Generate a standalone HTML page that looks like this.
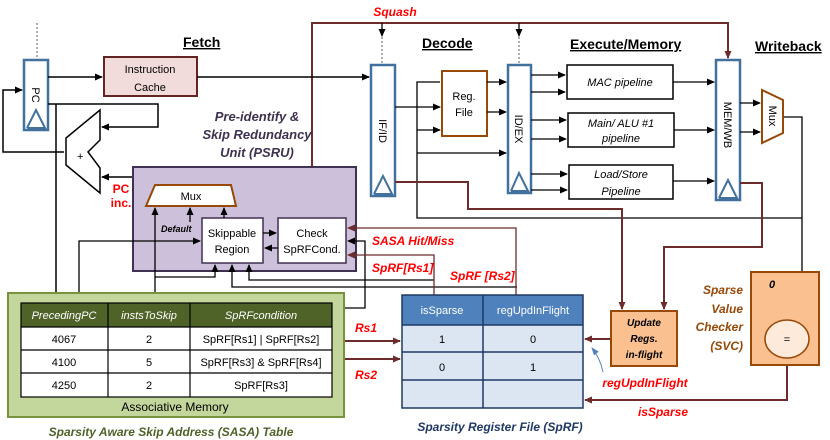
<!DOCTYPE html>
<html><head><meta charset="utf-8"><style>
body{margin:0;background:#fff}
svg{display:block;font-family:"Liberation Sans",sans-serif}
.t{font-size:11px;fill:#000}
.it{font-style:italic}
.b{font-weight:bold}
.red{fill:#ff0000;font-weight:bold;font-style:italic;font-size:12px}
</style></head><body>
<svg width="830" height="440" viewBox="0 0 830 440" xmlns="http://www.w3.org/2000/svg">
<defs>
<marker id="a" markerWidth="8" markerHeight="8" refX="7" refY="4" orient="auto" markerUnits="userSpaceOnUse"><path d="M0,0.5 L8,4 L0,7.5z" fill="#000"/></marker>
<marker id="r" markerWidth="8" markerHeight="8" refX="7" refY="4" orient="auto" markerUnits="userSpaceOnUse"><path d="M0,0.5 L8,4 L0,7.5z" fill="#6d2b2b"/></marker>
<marker id="bl" markerWidth="8" markerHeight="8" refX="7" refY="4" orient="auto" markerUnits="userSpaceOnUse"><path d="M0,1 L8,4 L0,7z" fill="#4f81bd"/></marker>
</defs>

<!-- titles -->
<g font-weight="bold" font-size="14" text-decoration="underline">
<text x="183" y="47">Fetch</text>
<text x="422" y="48">Decode</text>
<text x="570" y="49">Execute/Memory</text>
<text x="755" y="51">Writeback</text>
</g>

<!-- Squash -->
<text x="395" y="16" class="red" text-anchor="middle">Squash</text>
<g fill="none" stroke="#6d2b2b" stroke-width="2">
<polyline points="312,220 312,23 728,23 728,58" marker-end="url(#r)"/>
<polyline points="312,195 238,195" marker-end="url(#r)"/>
</g>

<!-- dashed stalls -->
<g stroke="#777" stroke-width="1.2" stroke-dasharray="2,2"><line x1="37" y1="23" x2="37" y2="60"/><line x1="382" y1="37" x2="382" y2="65"/><line x1="519" y1="37" x2="519" y2="65"/></g>
<g stroke="#000" stroke-width="1.3" fill="none"><line x1="382" y1="23" x2="382" y2="36" marker-end="url(#a)"/><line x1="519" y1="23" x2="519" y2="36" marker-end="url(#a)"/></g>

<!-- registers -->
<g fill="#fff" stroke="#41719c" stroke-width="2.5">
<rect x="24" y="60" width="24" height="70"/>
<rect x="371" y="65" width="24" height="131"/>
<rect x="508" y="65" width="23" height="128"/>
<rect x="716" y="60" width="24" height="140"/>
</g>
<g fill="none" stroke="#41719c" stroke-width="2">
<polyline points="27,128 36,110 45,128 27,128"/>
<polyline points="374,194 383,176 392,194 374,194"/>
<polyline points="511,191 519,173 528,191 511,191"/>
<polyline points="719,198 728,180 737,198 719,198"/>
</g>
<text transform="translate(32,95) rotate(90)" class="t" text-anchor="middle" font-size="10">PC</text>
<text transform="translate(379,131) rotate(90)" class="t" text-anchor="middle">IF/ID</text>
<text transform="translate(515,129) rotate(90)" class="t" text-anchor="middle">ID/EX</text>
<text transform="translate(724,125) rotate(90)" class="t" text-anchor="middle">MEM/WB</text>

<!-- Instruction cache -->
<rect x="104" y="57" width="93" height="39" fill="#f2dcdb" stroke="#632523" stroke-width="2"/>
<text x="150" y="73" class="t" font-size="12" text-anchor="middle">Instruction</text>
<text x="150" y="91" class="t" font-size="12" text-anchor="middle">Cache</text>

<!-- adder -->
<polygon points="100,110 66,138 66,165 100,193 100,168 88,152 100,140" fill="#fff" stroke="#000" stroke-width="1.5"/>
<text x="77" y="160" class="t" font-size="13">+</text>

<!-- fetch wires -->
<g fill="none" stroke="#000" stroke-width="1.5">
<line x1="48" y1="77" x2="102" y2="77" marker-end="url(#a)"/>
<line x1="197" y1="77" x2="369" y2="77" marker-end="url(#a)"/>
<polyline points="48,104 158,104 158,127 102,127" marker-end="url(#a)"/>
<polyline points="64,152 3,152 3,90 22,90" marker-end="url(#a)"/>
<polyline points="56,104 56,301" marker-end="url(#a)"/>
<polyline points="191,185 191,177 102,177" marker-end="url(#a)"/>
</g>

<!-- PSRU -->
<text x="257" y="121" fill="#3f3151" font-size="13" font-weight="bold" font-style="italic" text-anchor="middle">Pre-identify &amp;</text>
<text x="257" y="139" fill="#3f3151" font-size="13" font-weight="bold" font-style="italic" text-anchor="middle">Skip Redundancy</text>
<text x="257" y="157" fill="#3f3151" font-size="13" font-weight="bold" font-style="italic" text-anchor="middle">Unit (PSRU)</text>
<rect x="133" y="167" width="223" height="104" fill="#ccc0da" stroke="#403152" stroke-width="2"/>
<text x="121" y="193" fill="#ff0000" font-weight="bold" font-size="12" text-anchor="middle">PC</text>
<text x="121" y="207" fill="#ff0000" font-weight="bold" font-size="12" text-anchor="middle">inc.</text>
<polygon points="155,185 231,185 236,206 146,206" fill="#fff" stroke="#984807" stroke-width="2"/>
<text x="191" y="200" class="t" text-anchor="middle">Mux</text>
<rect x="202" y="218" width="61" height="45" fill="#fff" stroke="#403152" stroke-width="1.5"/>
<text x="232" y="237" class="t" text-anchor="middle">Skippable</text>
<text x="232" y="253" class="t" text-anchor="middle">Region</text>
<rect x="278" y="218" width="68" height="45" fill="#fff" stroke="#403152" stroke-width="1.5"/>
<text x="312" y="237" class="t" text-anchor="middle">Check</text>
<text x="312" y="253" class="t" text-anchor="middle">SpRFCond.</text>
<text x="161" y="232" font-size="9" font-weight="bold" font-style="italic">Default</text>
<g fill="none" stroke="#000" stroke-width="1.3">
<line x1="190" y1="222" x2="190" y2="208" marker-end="url(#a)"/>
<line x1="224" y1="218" x2="224" y2="208" marker-end="url(#a)"/>
<line x1="263" y1="233" x2="276" y2="233" marker-end="url(#a)"/>
<line x1="278" y1="248" x2="265" y2="248" marker-end="url(#a)"/>
<polyline points="155,301 155,208" marker-end="url(#a)"/>
<polyline points="79,303 79,241 200,241" marker-end="url(#a)"/>
<polyline points="155,277 215,277 215,265" marker-end="url(#a)"/>
<polyline points="434,280 249,280 249,265" marker-end="url(#a)"/>
<polyline points="517,287 232,287 232,265" marker-end="url(#a)"/>
<polyline points="344,308 365,308 365,241 348,241" marker-end="url(#a)"/>
</g>
<g fill="none" stroke="#6d2b2b" stroke-width="1.3">
<polyline points="516,296 516,228 348,228" marker-end="url(#r)"/>
<polyline points="434,296 434,255 348,255" marker-end="url(#r)"/>
</g>
<text x="372" y="245" class="red" font-size="11">SASA Hit/Miss</text>
<text x="372" y="272" class="red" font-size="11">SpRF[Rs1]</text>
<text x="450" y="280" class="red" font-size="11">SpRF [Rs2]</text>

<!-- decode -->
<rect x="442" y="71" width="45" height="65" fill="#fff" stroke="#984807" stroke-width="2"/>
<text x="464" y="100" class="t" font-size="10" text-anchor="middle">Reg.</text>
<text x="464" y="116" class="t" font-size="10" text-anchor="middle">File</text>
<g fill="none" stroke="#000" stroke-width="1.3">
<line x1="395" y1="107" x2="440" y2="107" marker-end="url(#a)"/>
<polyline points="440,82 417,82 417,218 802,218"/>
<line x1="417" y1="130" x2="440" y2="130" marker-end="url(#a)"/>
<line x1="417" y1="153" x2="506" y2="153" marker-end="url(#a)"/>
<line x1="487" y1="82" x2="506" y2="82" marker-end="url(#a)"/>
<line x1="487" y1="112" x2="506" y2="112" marker-end="url(#a)"/>
<line x1="531" y1="75" x2="565" y2="75" marker-end="url(#a)"/>
<line x1="531" y1="92" x2="565" y2="92" marker-end="url(#a)"/>
<line x1="531" y1="120" x2="566" y2="120" marker-end="url(#a)"/>
<line x1="531" y1="139" x2="566" y2="139" marker-end="url(#a)"/>
<line x1="531" y1="174" x2="567" y2="174" marker-end="url(#a)"/>
<line x1="531" y1="190" x2="567" y2="190" marker-end="url(#a)"/>
<line x1="673" y1="82" x2="714" y2="82" marker-end="url(#a)"/>
<line x1="674" y1="130" x2="714" y2="130" marker-end="url(#a)"/>
<line x1="673" y1="181" x2="714" y2="181" marker-end="url(#a)"/>
<line x1="740" y1="103" x2="760" y2="103" marker-end="url(#a)"/>
<line x1="740" y1="132" x2="760" y2="132" marker-end="url(#a)"/>
<polyline points="783,117 802,117 802,320" marker-end="url(#a)"/>
<line x1="772" y1="291" x2="772" y2="320" stroke="#6d2b2b" stroke-width="2" marker-end="url(#r)"/>
</g>

<!-- pipelines -->
<g fill="#fff" stroke="#000" stroke-width="1.5">
<rect x="567" y="65" width="106" height="34"/>
<rect x="568" y="113" width="106" height="34"/>
<rect x="569" y="165" width="104" height="34"/>
</g>
<text x="620" y="86" class="t it" text-anchor="middle">MAC pipeline</text>
<text x="621" y="127" class="t it" text-anchor="middle">Main/ ALU #1</text>
<text x="621" y="142" class="t it" text-anchor="middle">pipeline</text>
<text x="621" y="178" class="t it" text-anchor="middle">Load/Store</text>
<text x="621" y="195" class="t it" text-anchor="middle">Pipeline</text>
<polygon points="762,90 783,100 783,133 762,143" fill="#fff" stroke="#984807" stroke-width="2"/>
<text transform="translate(769,116) rotate(90)" class="t" text-anchor="middle" font-size="10">Mux</text>

<!-- red wires to update regs -->
<g fill="none" stroke="#6d2b2b" stroke-width="2">
<polyline points="395,182 468,182 468,209 622,209 622,309" marker-end="url(#r)"/>
<polyline points="740,183 762,183 762,247 664,247 664,309" marker-end="url(#r)"/>
<line x1="611" y1="339" x2="585" y2="339" marker-end="url(#r)"/>
<polyline points="787,358 787,400 585,400" marker-end="url(#r)"/>
<line x1="332" y1="341" x2="400" y2="341" marker-end="url(#r)"/>
<line x1="332" y1="359" x2="400" y2="359" marker-end="url(#r)"/>
</g>
<text x="366" y="332" class="red" text-anchor="middle">Rs1</text>
<text x="366" y="379" class="red" text-anchor="middle">Rs2</text>

<!-- Update Regs -->
<rect x="611" y="311" width="66" height="55" fill="#fac090" stroke="#984807" stroke-width="2"/>
<g font-size="10" font-weight="bold" font-style="italic" text-anchor="middle">
<text x="644" y="326">Update</text><text x="644" y="342">Regs.</text><text x="644" y="358">in-flight</text></g>
<path d="M603,372 Q600,358 592,348" fill="none" stroke="#4f81bd" stroke-width="1" marker-end="url(#bl)"/>
<text x="645" y="387" class="red" text-anchor="middle">regUpdInFlight</text>
<text x="663" y="416" class="red" text-anchor="middle">isSparse</text>

<!-- SVC -->
<rect x="751" y="272" width="68" height="93" fill="#fac090" stroke="#984807" stroke-width="2"/>
<text x="769" y="288" font-size="11" font-weight="bold" font-style="italic">0</text>
<ellipse cx="787" cy="339" rx="22" ry="19" fill="#fdeada" stroke="#984807" stroke-width="1.5"/>
<text x="787" y="343" class="t" text-anchor="middle">=</text>
<g fill="#984807" font-size="12" font-weight="bold" font-style="italic" text-anchor="end">
<text x="743" y="294">Sparse</text><text x="743" y="313">Value</text><text x="743" y="331">Checker</text><text x="743" y="350">(SVC)</text></g>

<!-- SASA table -->
<rect x="8" y="293" width="336" height="124" fill="#c3d69b" stroke="#77933c" stroke-width="2"/>
<rect x="21" y="303" width="311" height="24" fill="#4f6228"/>
<rect x="21" y="327" width="311" height="70" fill="#fff"/>
<g stroke="#000" stroke-width="1.2" fill="none">
<rect x="21" y="303" width="311" height="94"/>
<line x1="21" y1="327" x2="332" y2="327"/><line x1="21" y1="350" x2="332" y2="350"/><line x1="21" y1="373" x2="332" y2="373"/>
<line x1="108" y1="303" x2="108" y2="397"/><line x1="190" y1="303" x2="190" y2="397"/>
</g>
<g fill="#fff" font-size="11" font-style="italic" text-anchor="middle">
<text x="64" y="319">PrecedingPC</text><text x="149" y="319">instsToSkip</text><text x="261" y="319">SpRFcondition</text></g>
<text x="64" y="343" class="t" text-anchor="middle">4067</text><text x="149" y="343" class="t" text-anchor="middle">2</text><text x="261" y="343" class="t" text-anchor="middle">SpRF[Rs1] | SpRF[Rs2]</text>
<text x="64" y="366" class="t" text-anchor="middle">4100</text><text x="149" y="366" class="t" text-anchor="middle">5</text><text x="261" y="366" class="t" text-anchor="middle">SpRF[Rs3] &amp; SpRF[Rs4]</text>
<text x="64" y="389" class="t" text-anchor="middle">4250</text><text x="149" y="389" class="t" text-anchor="middle">2</text><text x="261" y="389" class="t" text-anchor="middle">SpRF[Rs3]</text>
<text x="175" y="411" font-size="12" text-anchor="middle">Associative Memory</text>
<text x="171" y="436" fill="#4f6228" font-size="12" font-weight="bold" font-style="italic" text-anchor="middle">Sparsity Aware Skip Address (SASA) Table</text>

<!-- SpRF -->
<rect x="402" y="295" width="181" height="30" fill="#4f81bd"/>
<rect x="402" y="325" width="181" height="83" fill="#dce6f2"/>
<g stroke="#1f3864" stroke-width="1.5" fill="none">
<rect x="402" y="295" width="181" height="113"/>
<line x1="402" y1="325" x2="583" y2="325"/><line x1="402" y1="352" x2="583" y2="352"/><line x1="402" y1="380" x2="583" y2="380"/>
<line x1="483" y1="295" x2="483" y2="408"/></g>
<g fill="#fff" font-size="11" text-anchor="middle"><text x="442" y="314">isSparse</text><text x="533" y="314">regUpdInFlight</text></g>
<text x="442" y="343" class="t" text-anchor="middle">1</text><text x="533" y="343" class="t" text-anchor="middle">0</text>
<text x="442" y="371" class="t" text-anchor="middle">0</text><text x="533" y="371" class="t" text-anchor="middle">1</text>
<text x="500" y="431" fill="#1f3864" font-size="12" font-weight="bold" font-style="italic" text-anchor="middle">Sparsity Register File (SpRF)</text>
</svg>
</body></html>
